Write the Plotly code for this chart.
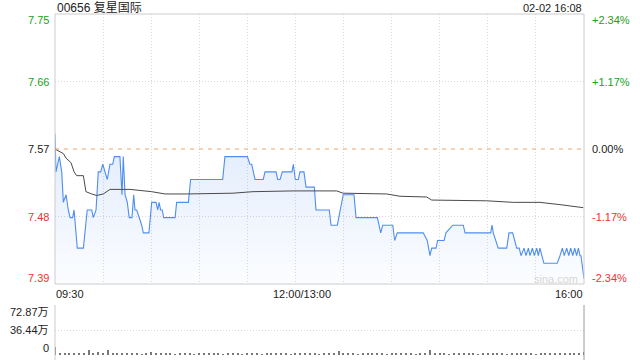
import plotly.graph_objects as go

# ---------------- data ----------------
prev_close = 7.57
pct_range = 2.34
title_text = "00656 复星国际"
stamp_text = "02-02 16:08"
x_labels = ["09:30", "12:00/13:00", "16:00"]
price_labels = ["7.75", "7.66", "7.57", "7.48", "7.39"]
pct_labels = ["+2.34%", "+1.17%", "0.00%", "-1.17%", "-2.34%"]
vol_labels = ["72.87万", "36.44万", "0"]
vol_max = 72.87

# minutes since 09:30 (trading minutes, lunch break removed)
price_min = [0, 0.6, 2.7, 4.2, 5.2, 6.9, 8.3, 9.4, 11.0, 11.9, 13.9, 17.7, 20.1, 22.9,
             23.9, 25.6, 27.0, 28.5, 29.8, 31.2, 32.6, 34.3, 36.0, 37.0, 40.5, 41.8,
             42.6, 43.7, 45.1, 46.3, 48.0, 49.1, 49.9, 51.0, 52.6, 54.1, 55.1, 58.6,
             60.3, 63.0, 64.1, 64.9, 65.9, 66.9, 67.8, 74.9, 75.9, 83.2, 84.6, 104.6,
             106.0, 120.0, 121.6, 122.7, 124.8, 129.9, 131.0, 137.9, 138.9, 140.4,
             141.8, 147.8, 148.7, 149.9, 151.8, 152.8, 155.3, 156.6, 161.8, 162.8,
             171.1, 172.2, 176.1, 177.8, 179.8, 186.5, 187.8, 201.1, 203.2, 204.4,
             210.7, 211.9, 213.5, 229.7, 232.2, 233.9, 235.0, 237.7, 238.7, 242.7,
             243.9, 248.1, 254.7, 255.8, 271.8, 272.6, 273.4, 276.5, 281.8, 283.2,
             285.5, 288.0, 289.6, 290.7, 292.6, 293.8, 295.3, 296.3, 297.8, 299.0,
             300.5, 301.5, 302.5, 305.0, 313.3, 315.0, 316.5, 317.7, 319.2, 320.5,
             321.7, 323.0, 324.2, 325.4, 326.5, 327.5, 328.1, 330.0]
price_val = [7.59, 7.54, 7.56, 7.54, 7.50, 7.51, 7.49, 7.48, 7.48, 7.49, 7.44, 7.44, 7.49, 7.49,
             7.48, 7.49, 7.54, 7.54, 7.55, 7.54, 7.53, 7.55, 7.55, 7.56, 7.56, 7.51,
             7.56, 7.51, 7.50, 7.48, 7.48, 7.51, 7.49, 7.49, 7.48, 7.47, 7.46, 7.46,
             7.50, 7.50, 7.49, 7.50, 7.49, 7.49, 7.48, 7.48, 7.50, 7.50, 7.53, 7.53,
             7.56, 7.56, 7.55, 7.55, 7.53, 7.53, 7.54, 7.54, 7.53, 7.53,
             7.54, 7.54, 7.55, 7.53, 7.53, 7.54, 7.54, 7.52, 7.52, 7.49,
             7.49, 7.47, 7.47, 7.49, 7.51, 7.51, 7.48, 7.48, 7.46, 7.47,
             7.47, 7.45, 7.46, 7.46, 7.45, 7.43, 7.44, 7.44, 7.45, 7.45,
             7.46, 7.47, 7.47, 7.46, 7.46, 7.47, 7.46, 7.44, 7.44, 7.46,
             7.46, 7.44, 7.44, 7.43, 7.44, 7.43, 7.44, 7.43, 7.44, 7.43,
             7.44, 7.43, 7.44, 7.42, 7.42, 7.43, 7.44, 7.43, 7.44, 7.43,
             7.44, 7.43, 7.44, 7.43, 7.44, 7.43, 7.43, 7.40]

avg_min = [0, 5.2, 6.9, 10.0, 11.9, 13.5, 17.7, 19.3, 22.9, 26.0, 30.1, 34.3, 46.8, 53.0,
           60.3, 68.6, 82.2, 111.0, 123.5, 148.5, 175.7, 179.7, 206.9, 215.2, 231.9,
           235.0, 269.3, 285.9, 302.5, 315.0, 329.6]
avg_val = [7.570, 7.564, 7.558, 7.552, 7.540, 7.535, 7.535, 7.514, 7.511, 7.509, 7.511,
           7.517, 7.517, 7.516, 7.514, 7.511, 7.511, 7.512, 7.514, 7.515, 7.515, 7.512,
           7.511, 7.508, 7.507, 7.503, 7.502, 7.500, 7.500, 7.497, 7.493]

# volume (万), one value every 3 minutes
vol_min = list(range(0, 331, 3))
vol_val = [11.5, 3.0, 2.2, 2.8, 2.0, 2.5, 1.8, 7.0, 2.2, 4.8, 2.0, 7.2, 1.8, 2.4, 1.6, 2.2,
           1.5, 1.8, 1.4, 2.0, 5.0, 1.6, 2.2, 1.5, 1.8, 1.4, 2.0, 1.6, 1.8, 1.4, 2.2, 1.6,
           1.8, 1.5, 2.0, 1.4, 1.9, 1.6, 1.8, 1.4, 2.0, 1.5, 1.7, 1.4, 1.9, 1.5, 1.8, 1.6,
           2.0, 1.4, 1.7, 1.5, 1.9, 1.6, 1.8, 1.4, 2.0, 1.5, 2.2, 6.0, 1.8, 1.5, 2.0, 1.4,
           1.8, 1.6, 1.9, 1.5, 1.7, 1.4, 2.0, 1.6, 1.8, 1.5, 1.9, 1.4, 1.7, 1.6, 7.0, 1.8,
           1.5, 2.0, 1.4, 1.8, 1.6, 1.9, 1.5, 1.7, 1.4, 2.0, 1.6, 1.8, 1.5, 1.9, 1.4, 1.7,
           1.6, 2.0, 1.5, 1.8, 1.4, 1.9, 1.6, 1.7, 1.5, 2.0, 1.6, 1.8, 1.5, 2.1, 4.0]

# ---------------- figure ----------------
W, H = 640, 360
def xp(x): return x / W
def yp(y): return 1 - y / H

lo = prev_close * (1 - pct_range / 100)
hi = prev_close * (1 + pct_range / 100)
grid_vals = [lo + (hi - lo) * k / 4 for k in range(5)]

BLUE = "#4f8ef0"
GREEN = "#1aa01a"
RED = "#f03232"
GRIDC = "#d9d9d9"
FONT = "Liberation Sans, Arial, sans-serif"

fig = go.Figure()
fig.add_trace(go.Scatter(x=[0, 330], y=[lo, lo], mode="lines", line=dict(width=0),
                         hoverinfo="skip", showlegend=False))
fig.add_trace(go.Scatter(x=price_min, y=price_val, mode="lines", fill="tonexty",
                         line=dict(color=BLUE, width=1.1),
                         fillgradient=dict(type="vertical", start=lo, stop=max(price_val),
                                           colorscale=[[0, "rgba(79,142,240,0.02)"],
                                                       [1, "rgba(79,142,240,0.17)"]]),
                         showlegend=False))
fig.add_trace(go.Scatter(x=avg_min, y=avg_val, mode="lines",
                         line=dict(color="#4a4a4a", width=1), showlegend=False))
fig.add_trace(go.Bar(x=vol_min, y=vol_val, width=0.7, marker=dict(color="#777", line_width=0),
                     xaxis="x2", yaxis="y2", showlegend=False))

x0p, x1p = xp(55), xp(584)
fig.update_layout(
    width=W, height=H, margin=dict(l=0, r=0, t=0, b=0),
    paper_bgcolor="white", plot_bgcolor="white",
    font=dict(family=FONT, size=11, color="#222"),
    xaxis=dict(domain=[x0p, x1p], range=[0, 330], tickvals=list(range(30, 330, 30)),
               showgrid=True, gridcolor=GRIDC, griddash="1px,2px", gridwidth=1,
               showticklabels=False, zeroline=False, showline=False, ticks=""),
    yaxis=dict(domain=[yp(284), yp(14)], range=[lo, hi], tickvals=[grid_vals[1], grid_vals[3]],
               showgrid=True, gridcolor=GRIDC, griddash="1px,2px", showticklabels=False,
               zeroline=False, ticks=""),
    xaxis2=dict(domain=[x0p, x1p], range=[0, 330], anchor="y2", showgrid=False,
                showticklabels=False, zeroline=False, ticks=""),
    yaxis2=dict(domain=[yp(355), yp(305)], range=[0, vol_max], anchor="x2",
                tickvals=[vol_max / 2, vol_max], showgrid=True, gridcolor=GRIDC,
                griddash="1px,2px", showticklabels=False, zeroline=False, ticks=""),
    bargap=0,
)

shapes = [
    dict(type="rect", xref="paper", yref="paper", x0=x0p, x1=x1p, y0=yp(284), y1=yp(14),
         line=dict(color="#cccccc", width=1), layer="above"),
    dict(type="line", xref="x", yref="y", x0=0, x1=330, y0=prev_close, y1=prev_close,
         line=dict(color="#f3a463", width=1, dash="4px,5px")),
    dict(type="line", xref="paper", yref="paper", x0=x0p, x1=x0p, y0=0, y1=yp(305),
         line=dict(color="#cccccc", width=1)),
    dict(type="line", xref="paper", yref="paper", x0=x1p, x1=x1p, y0=0, y1=yp(305),
         line=dict(color="#9a9a9a", width=1)),
]
fig.update_layout(shapes=shapes)

ann = []
def add(text, x, y, xanchor, color="#222", size=11, family=FONT):
    ann.append(dict(text=text, x=xp(x), y=yp(y), xref="paper", yref="paper",
                    xanchor=xanchor, yanchor="middle", showarrow=False,
                    font=dict(color=color, size=size, family=family)))

add(title_text, 55, 8, "left", "#222", 12, "Liberation Sans, Noto Sans CJK SC, sans-serif")
add(stamp_text, 584, 8, "right", "#222", 11)

lcol = [GREEN, GREEN, "#222", RED, RED]
ly = [20, 82.5, 149, 216.5, 278]
for t, c, y in zip(price_labels, lcol, ly):
    add(t, 51, y, "right", c)
for t, c, y in zip(pct_labels, lcol, ly):
    add(t, 590, y, "left", c)

add(x_labels[0], 54, 294, "left")
add(x_labels[1], 302, 294, "center")
add(x_labels[2], 585, 294, "right")

for t, y in zip(vol_labels, [311.5, 330, 348]):
    add(t, 51, y, "right", "#222", 11, "Liberation Sans, Noto Sans CJK SC, sans-serif")

add("sina.com", 556, 279, "center", "#d6d6d6", 11)
fig.update_layout(annotations=ann)

fig.write_html("out.html")
